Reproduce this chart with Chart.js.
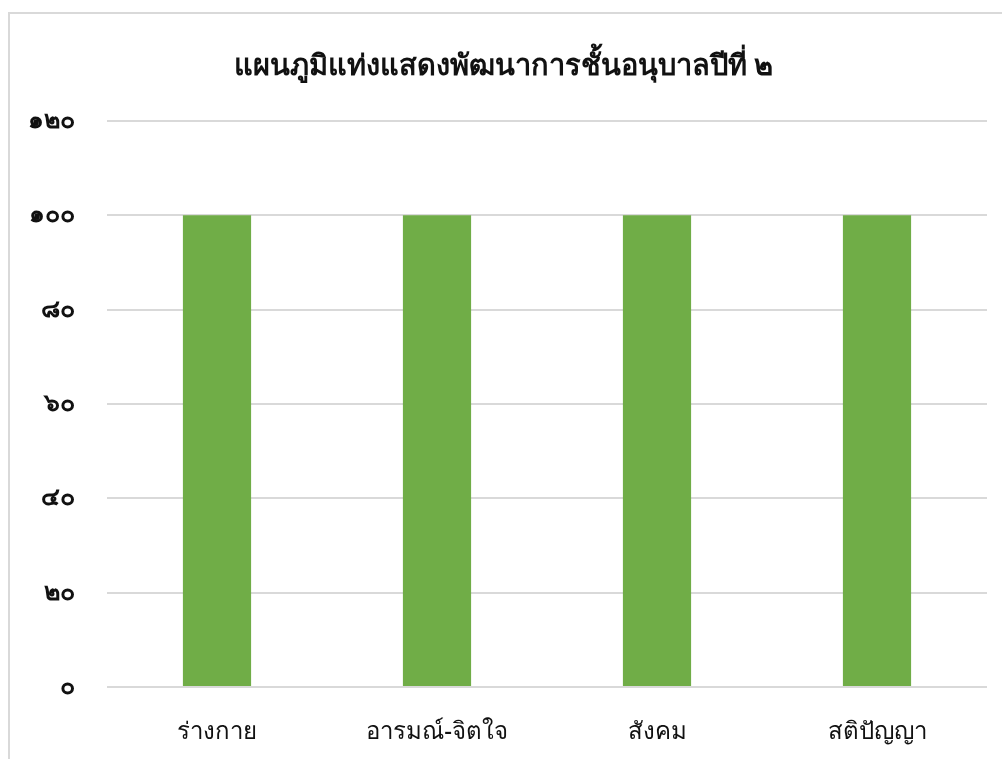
<!DOCTYPE html>
<html>
<head>
<meta charset="utf-8">
<script src="https://cdn.jsdelivr.net/npm/chart.js@4.4.1/dist/chart.umd.min.js"></script>
<style>
  html, body { margin: 0; padding: 0; background: #fff; overflow: hidden; width: 1002px; height: 759px; }
  .chart-box {
    position: absolute; left: 8px; top: 12px;
    width: 1006px; height: 780px;
    border: 2px solid #d9d9d9; background: #fff;
  }
</style>
</head>
<body>
<div class="chart-box">
  <canvas id="myChart" width="1006" height="780"></canvas>
</div>
<script>
const titleText = "แผนภูมิแท่งแสดงพัฒนาการชั้นอนุบาลปีที่ ๒";
const categories = ["ร่างกาย", "อารมณ์-จิตใจ", "สังคม", "สติปัญญา"];
const scores = [100, 100, 100, 100];
const thaiDigits = ["๐", "๑", "๒", "๓", "๔", "๕", "๖", "๗", "๘", "๙"];

const fontFamily = "Tahoma, 'Noto Sans', 'DejaVu Sans', sans-serif";

// convert arabic numbers to thai numerals for the y ticks
const toThai = (n) => String(n).replace(/[0-9]/g, (d) => thaiDigits[d]);

const ctx = document.getElementById("myChart").getContext("2d");
new Chart(ctx, {
  type: "bar",
  data: {
    labels: categories,
    datasets: [
      {
        data: scores,
        backgroundColor: "#70ad47",
        borderWidth: 0,
        categoryPercentage: 1,
        barPercentage: 0.31,
      },
    ],
  },
  options: {
    responsive: false,
    animation: false,
    layout: { padding: { left: 10, right: 29, top: 0, bottom: 20 } },
    plugins: {
      legend: { display: false },
      tooltip: { enabled: false },
      title: {
        display: true,
        text: titleText,
        color: "#111",
        font: { family: fontFamily, size: 29, weight: "600" },
        padding: { top: 35, bottom: 37 },
      },
    },
    scales: {
      x: {
        grid: { display: false },
        border: { display: false },
        ticks: {
          color: "#111",
          font: { family: fontFamily, size: 24, weight: "500" },
          padding: 23,
        },
        afterFit: (scale) => { scale.height = 87; },
      },
      y: {
        min: 0,
        max: 120,
        ticks: {
          stepSize: 20,
          color: "#111",
          font: { family: fontFamily, size: 25, weight: "bold" },
          padding: 32,
          callback: (v) => toThai(v),
        },
        grid: { color: "#d9d9d9", lineWidth: 2, drawTicks: false },
        border: { display: false },
        afterFit: (scale) => { scale.width = 87; },
      },
    },
  },
});
</script>
</body>
</html>
